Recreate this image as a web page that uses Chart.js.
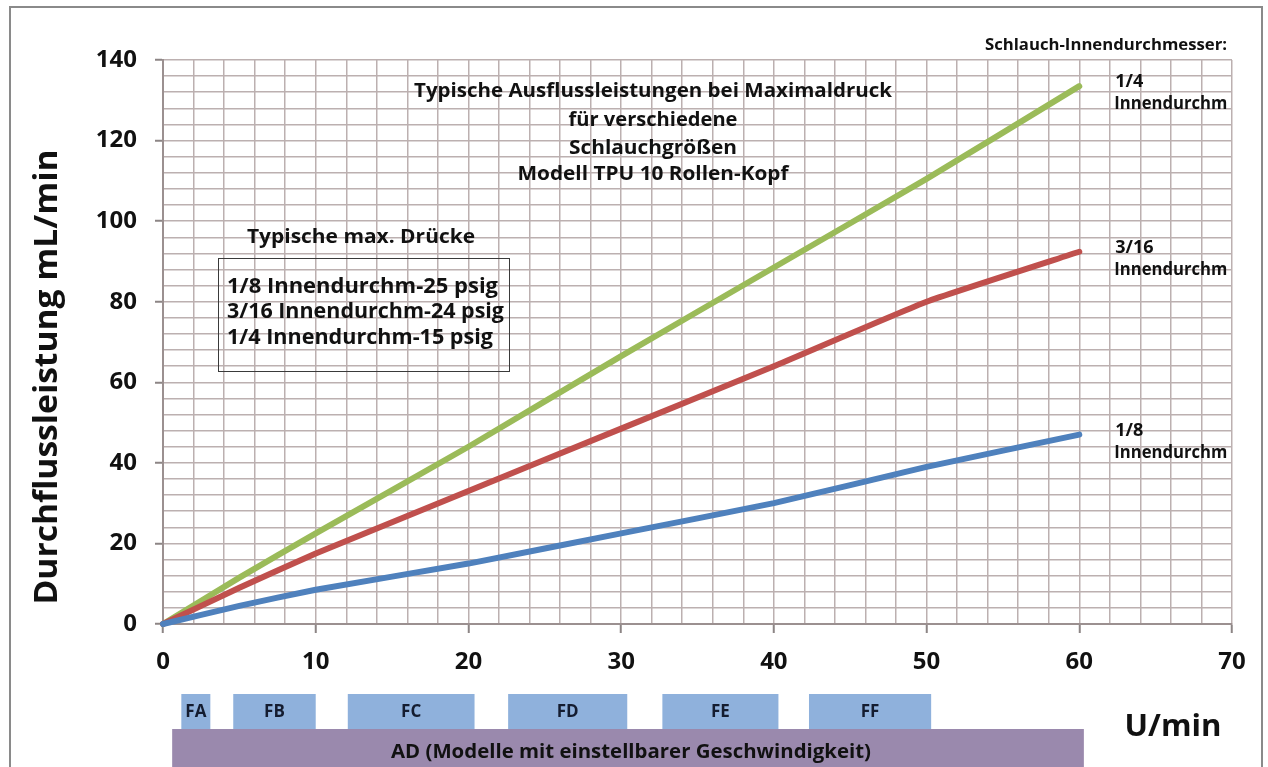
<!DOCTYPE html>
<html><head><meta charset="utf-8">
<script src="https://cdn.jsdelivr.net/npm/chart.js@4/dist/chart.umd.min.js"></script>
<style>html,body{margin:0;padding:0;background:#fff;overflow:hidden}#wrap{position:relative;width:1268px;height:767px}</style>
</head><body><div id="wrap"><canvas id="c" width="1268" height="767"></canvas></div>
<script>
// ---- data ----
const speeds = [0, 5, 10, 20, 30, 40, 50, 60];                  // U/min
const flowEighth = [0, 4.5, 8.5, 15, 22.5, 30, 39, 47];          // 1/8 ID, mL/min
const flowThreeSixteenth = [0, 9, 17.5, 33, 48.5, 64, 80, 92.4]; // 3/16 ID
const flowQuarter = [0, 11.5, 22.5, 44, 66.5, 88.5, 110.5, 133.5]; // 1/4 ID
const seriesFractions = ['1/8', '3/16', '1/4'];
const seriesSuffix = 'Innendurchm';
const xTickLabels = [0, 10, 20, 30, 40, 50, 60, 70];
const yTickLabels = [0, 20, 40, 60, 80, 100, 120, 140];
const rangeNames = ['FA', 'FB', 'FC', 'FD', 'FE', 'FF'];
const rangeStart = [1.2, 4.6, 12.1, 22.6, 32.7, 42.3];
const rangeEnd = [3.1, 10, 20.4, 30.4, 40.3, 50.3];
const adLabel = 'AD (Modelle mit einstellbarer Geschwindigkeit)';
const adRange = [0.6, 60.3];
const titleLines = ['Typische Ausflussleistungen bei Maximaldruck', 'für verschiedene', 'Schlauchgrößen', 'Modell TPU 10 Rollen-Kopf'];
const pressureTitle = 'Typische max. Drücke';
const pressureLines = ['1/8 Innendurchm-25 psig', '3/16 Innendurchm-24 psig', '1/4 Innendurchm-15 psig'];
const yTitle = 'Durchflussleistung mL/min';
const xTitle = 'U/min';
const legendHeader = 'Schlauch-Innendurchmesser:';

const FONT = '"Open Sans", "DejaVu Sans", sans-serif';
const colors = ['#4f81bd', '#c0504d', '#9bbb59'];
const seriesValues = [flowEighth, flowThreeSixteenth, flowQuarter];

function txt(ctx, s, x, y, size, align, targetW, color) {
  ctx.save();
  ctx.font = 'bold ' + size + 'px ' + FONT;
  ctx.fillStyle = color || '#111';
  ctx.textBaseline = 'middle';
  ctx.textAlign = align || 'left';
  let sx = 1;
  if (targetW) sx = targetW / ctx.measureText(s).width;
  ctx.translate(x, y);
  ctx.scale(sx, 1);
  ctx.fillText(s, 0, 0);
  ctx.restore();
}

const annot = {
  id: 'annot',
  afterDraw(chart) {
    const ctx = chart.ctx, xs = chart.scales.x, ys = chart.scales.y;
    // in-plot title
    const tY = [91, 120, 148, 174], tW = [478, 169, 168, 271];
    titleLines.forEach((l, i) => txt(ctx, l, 653, tY[i], 19.5, 'center', tW[i]));
    // pressure box
    txt(ctx, pressureTitle, 361, 237, 20, 'center', 228);
    ctx.save(); ctx.strokeStyle = '#3a3a3a'; ctx.lineWidth = 1;
    ctx.strokeRect(218.5, 258.5, 291, 113); ctx.restore();
    const pW = [271, 277, 266];
    pressureLines.forEach((l, i) => txt(ctx, l, 227, 287 + i * 25.5, 21, 'left', pW[i]));
    // legend header
    txt(ctx, legendHeader, 1227, 45, 16, 'right', 242);
    // end labels anchored to series end points
    seriesValues.forEach((arr, i) => {
      const n = arr.length - 1;
      const px = xs.getPixelForValue(speeds[n]) + 36;
      const py = ys.getPixelForValue(arr[n]) - 4;
      txt(ctx, seriesFractions[i], px, py, 18, 'left');
      txt(ctx, seriesSuffix, px - 1, py + 22, 17.5, 'left', 113);
    });
    // axis titles
    ctx.save(); ctx.translate(48, 377); ctx.rotate(-Math.PI / 2);
    txt(ctx, yTitle, 0, 0, 33, 'center', 455);
    ctx.restore();
    txt(ctx, xTitle, 1173, 727, 30, 'center', 97);
    // speed range bars
    ctx.save();
    ctx.fillStyle = '#9a89ad';
    const a0 = xs.getPixelForValue(adRange[0]), a1 = xs.getPixelForValue(adRange[1]);
    ctx.fillRect(a0, 729, a1 - a0, 50);
    ctx.fillStyle = '#8fb1dc';
    rangeNames.forEach((n, i) => {
      const b0 = xs.getPixelForValue(rangeStart[i]), b1 = xs.getPixelForValue(rangeEnd[i]);
      ctx.fillRect(b0, 694, b1 - b0, 35);
    });
    ctx.restore();
    rangeNames.forEach((n, i) => {
      const b0 = xs.getPixelForValue(rangeStart[i]), b1 = xs.getPixelForValue(rangeEnd[i]);
      txt(ctx, n, (b0 + b1) / 2, 712, 17, 'center', null, '#141c30');
    });
    txt(ctx, adLabel, 631, 752, 20, 'center', 480);
    // outer frame
    ctx.save(); ctx.strokeStyle = '#8a8a8a'; ctx.lineWidth = 2;
    ctx.strokeRect(10, 7, 1252, 800); ctx.restore();
  }
};

new Chart(document.getElementById('c'), {
  type: 'line',
  data: {
    datasets: seriesValues.map((arr, i) => ({
      label: seriesFractions[i] + ' ' + seriesSuffix,
      data: speeds.map((s, j) => ({ x: s, y: arr[j] })),
      borderColor: colors[i],
      borderWidth: 6,
      pointRadius: 0,
      tension: 0.12,
      borderCapStyle: 'round',
      borderJoinStyle: 'round',
      clip: 8,
      fill: false
    }))
  },
  options: {
    responsive: false,
    animation: false,
    devicePixelRatio: 1,
    layout: { padding: { left: 0, top: 60, right: 36, bottom: 0 } },
    plugins: { legend: { display: false }, tooltip: { enabled: false }, title: { display: false } },
    scales: {
      x: {
        type: 'linear', min: 0, max: 70,
        afterFit(s) { s.height = 143; },
        grid: {
          color: '#bcb0b0', lineWidth: 1.5, tickLength: 9, tickWidth: 2,
          tickColor: c => (c.tick && xTickLabels.includes(c.tick.value)) ? '#8c8585' : 'rgba(0,0,0,0)'
        },
        border: { color: '#9b9090', width: 2 },
        ticks: {
          stepSize: 2, autoSkip: false, maxRotation: 0, padding: 15, color: '#111',
          font: { family: FONT, weight: 'bold', size: 24 },
          callback: v => xTickLabels.includes(v) ? String(v) : ''
        }
      },
      y: {
        type: 'linear', min: 0, max: 140,
        afterFit(s) { s.width = 163; },
        grid: {
          color: '#bcb0b0', lineWidth: 1.5, tickLength: 8, tickWidth: 2,
          tickColor: c => (c.tick && yTickLabels.includes(c.tick.value)) ? '#8c8585' : 'rgba(0,0,0,0)'
        },
        border: { color: '#9b9090', width: 2 },
        ticks: {
          stepSize: 4, autoSkip: false, padding: 18, color: '#111',
          font: { family: FONT, weight: 'bold', size: 24 },
          callback: v => yTickLabels.includes(v) ? String(v) : ''
        }
      }
    }
  },
  plugins: [annot]
});
</script>
</body></html>
